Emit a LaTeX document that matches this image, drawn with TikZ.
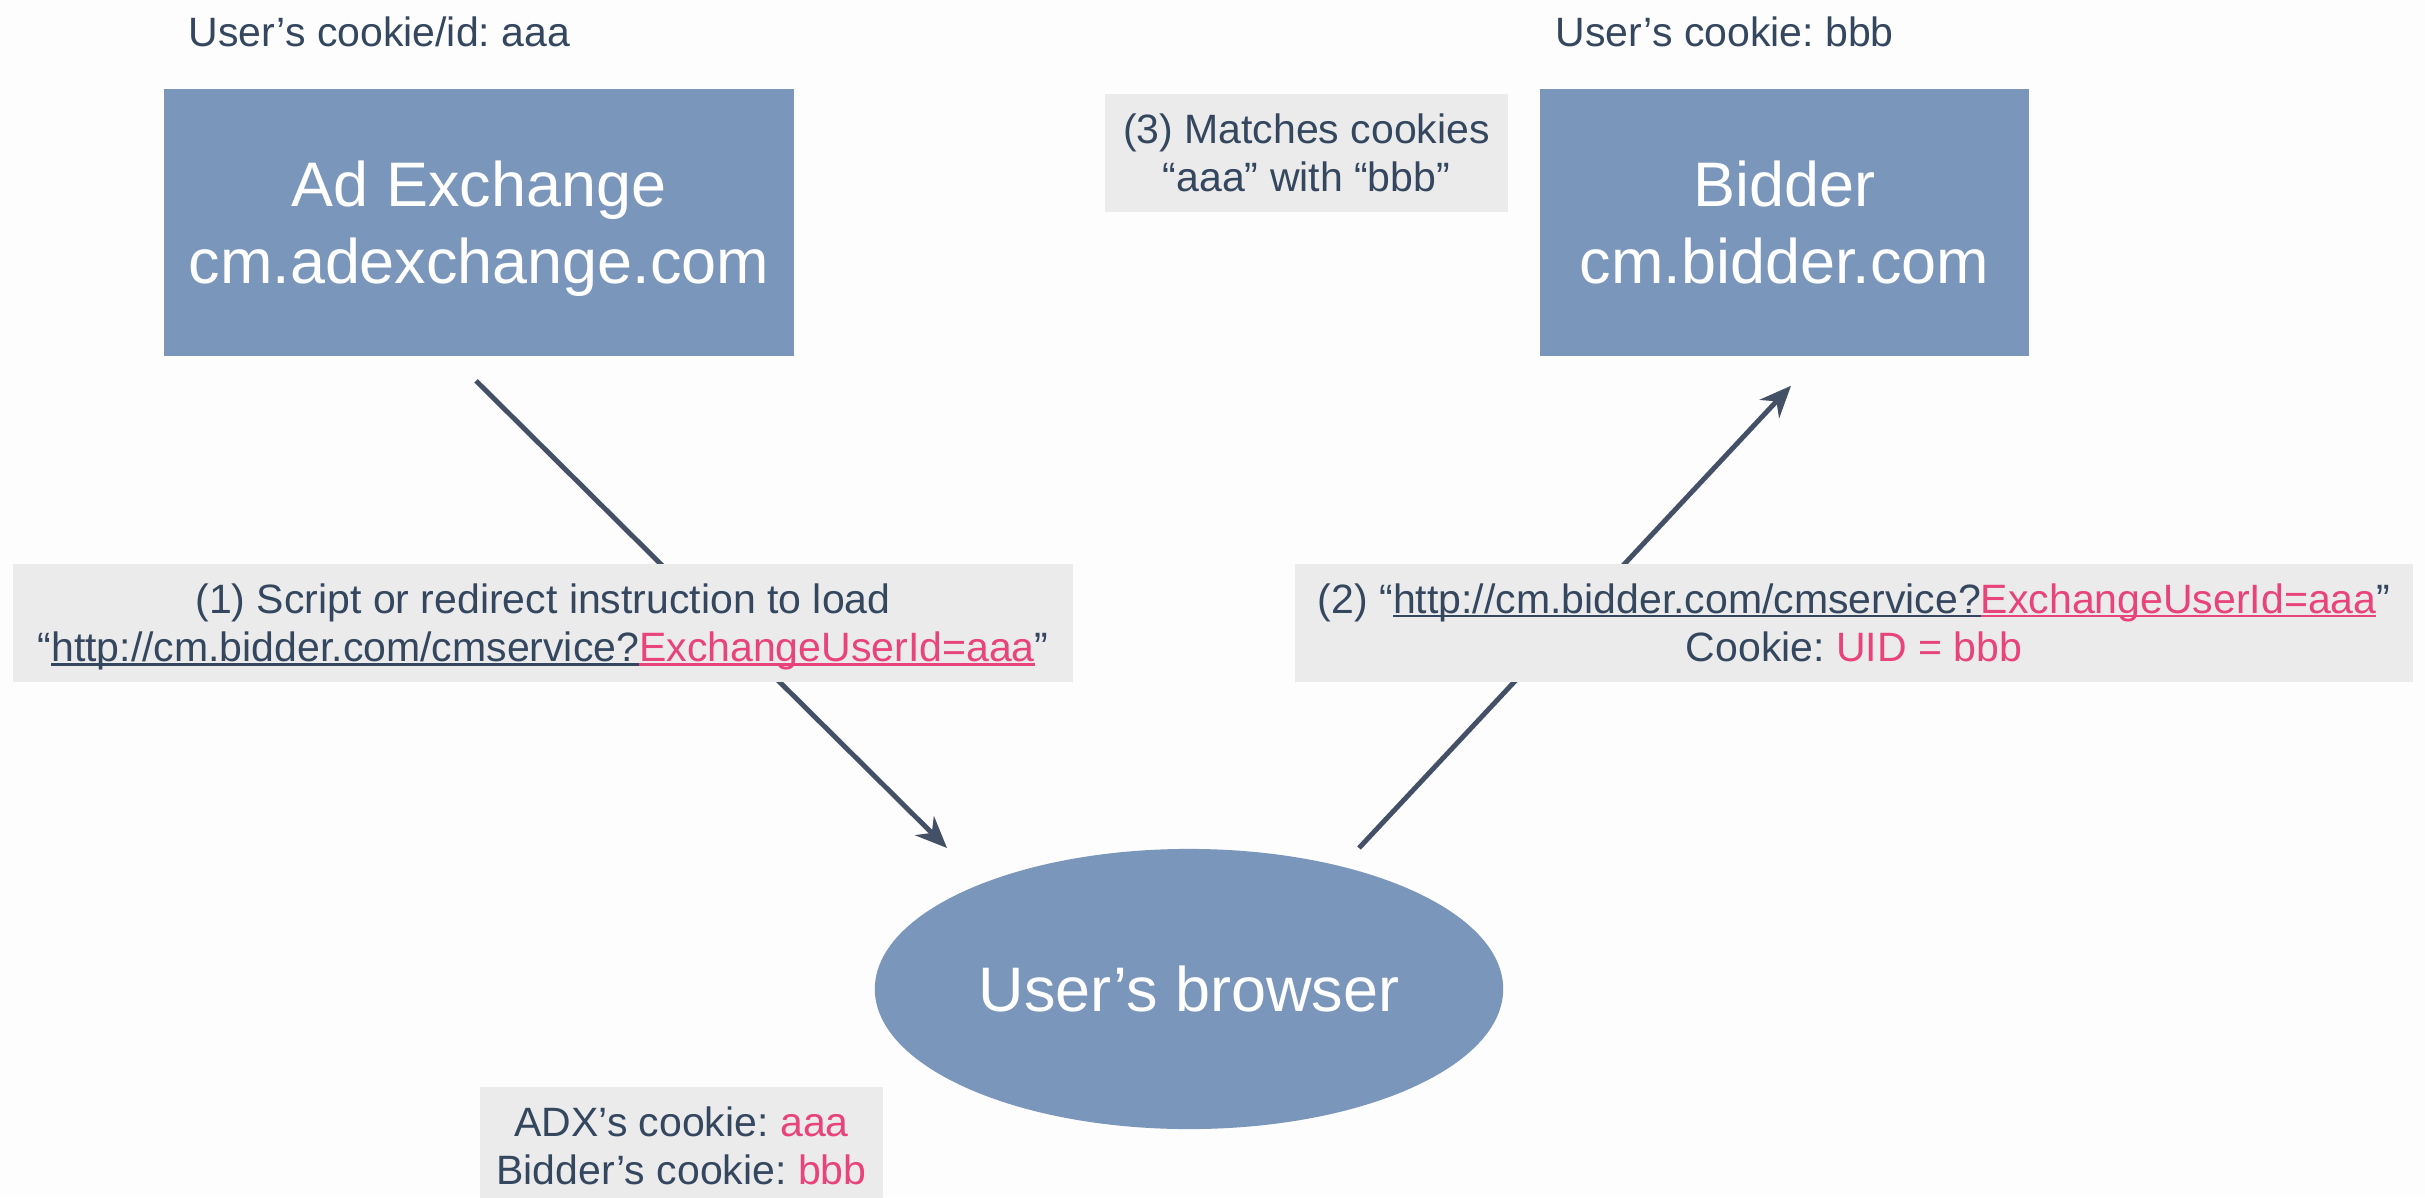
\documentclass[tikz,border=0pt]{standalone}
\usepackage{fontspec}
\setmainfont{Liberation Sans}
\usetikzlibrary{arrows.meta,shapes.geometric,calc}

\definecolor{boxblue}{RGB}{122,150,187}
\definecolor{notegray}{RGB}{235,235,235}
\definecolor{ink}{RGB}{52,71,95}
\definecolor{hot}{RGB}{232,67,122}
\definecolor{wire}{RGB}{68,80,102}
\definecolor{paper}{RGB}{253,253,253}

% underlined link text: the rule takes the current colour
\newcommand\lnk[1]{\setbox0\hbox{#1}\rlap{\rule[-0.09em]{\wd0}{0.055em}}\box0}

\tikzset{
  smalltxt/.style={font=\frenchspacing\fontsize{11.66}{13.66}\selectfont, text=ink},
  bigtxt/.style={font=\frenchspacing\fontsize{17.9}{21.9}\selectfont, text=white},
  sysbox/.style={rectangle, fill=boxblue, inner sep=0pt, align=center, bigtxt},
  notebox/.style={rectangle, fill=notegray, inner sep=0pt, align=center, smalltxt},
  browserbox/.style={ellipse, fill=boxblue, inner sep=0pt, minimum width=6.28cm,
    minimum height=2.80cm, bigtxt},
  flow/.style={draw=wire, line width=1.4pt, -{Stealth[length=9pt,width=7.6pt]}}
}

\begin{document}
\begin{tikzpicture}[x=0.01cm,y=-0.01cm]
\fill[paper] (0,0) rectangle (2425,1197);
\useasboundingbox (0,0) rectangle (2425,1197);

% the two servers
\node[sysbox, minimum width=6.30cm, minimum height=2.67cm] (adx) at (479,222.5)
  {Ad Exchange\\\smash{cm.adexchange.com}};
\node[sysbox, minimum width=4.89cm, minimum height=2.67cm] (bid) at (1784.5,222.5)
  {Bidder\\cm.bidder.com};

\node[smalltxt, inner sep=0pt, anchor=base west] (adxid) at (188,47) {User’s cookie/id: aaa};
\node[smalltxt, inner sep=0pt, anchor=base west] (bidid) at (1555,47) {User’s cookie: bbb};

\node[notebox, minimum width=4.03cm, minimum height=1.18cm] (match) at (1306.5,153)
  {(3) Matches cookies\\“aaa” with “bbb”};

% the browser
\node[browserbox] (browser) at (1189,989) {User’s browser};

% message flow
\coordinate (s1) at ($(adx.south)+(-3,24)$);
\coordinate (e1) at ($(browser.center)+(-242,-141)$);
\coordinate (s2) at ($(browser.center)+(170,-141)$);
\coordinate (e2) at ($(bid.south)+(6.5,29)$);
\draw[flow] (s1) -- (e1);
\draw[flow] (s2) -- (e2);

\node[notebox, minimum width=10.60cm, minimum height=1.18cm] (step1) at (543,623)
  {(1) Script or redirect instruction to load\\
   \smash{“\lnk{http://cm.bidder.com/cmservice?}\textcolor{hot}{\lnk{ExchangeUserId=aaa}}”}};
\node[notebox, minimum width=11.18cm, minimum height=1.18cm] (step2) at (1854,623)
  {(2) “\lnk{http://cm.bidder.com/cmservice?}\textcolor{hot}{\lnk{ExchangeUserId=aaa}}”\\
   Cookie: \textcolor{hot}{UID = bbb}};

\node[notebox, minimum width=4.03cm, minimum height=1.18cm] (jar) at (681.5,1146)
  {ADX’s cookie: \textcolor{hot}{aaa}\\Bidder’s cookie: \textcolor{hot}{bbb}};
\end{tikzpicture}
\end{document}
